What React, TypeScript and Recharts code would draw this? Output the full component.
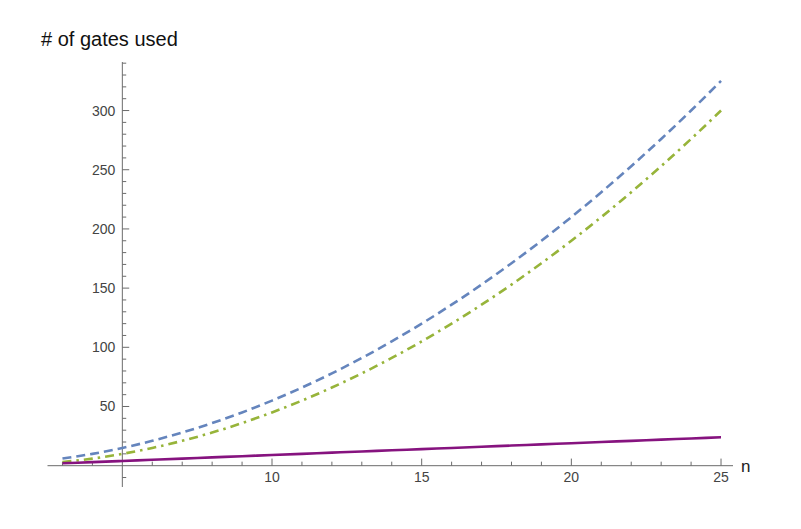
import { LineChart, Line, XAxis, YAxis, ReferenceLine } from 'recharts';

const nValues = [3, 4, 5, 6, 7, 8, 9, 10, 11, 12, 13, 14, 15, 16, 17, 18, 19, 20, 21, 22, 23, 24, 25];
const blueGates = [6, 10, 15, 21, 28, 36, 45, 55, 66, 78, 91, 105, 120, 136, 153, 171, 190, 210, 231, 253, 276, 300, 325];
const greenGates = [3, 6, 10, 15, 21, 28, 36, 45, 55, 66, 78, 91, 105, 120, 136, 153, 171, 190, 210, 231, 253, 276, 300];
const purpleGates = [2, 3, 4, 5, 6, 7, 8, 9, 10, 11, 12, 13, 14, 15, 16, 17, 18, 19, 20, 21, 22, 23, 24];

const xMajorTicks = [10, 15, 20, 25];
const xMinorTicks = [3, 4, 6, 7, 8, 9, 11, 12, 13, 14, 16, 17, 18, 19, 21, 22, 23, 24];
const yMajorTicks = [50, 100, 150, 200, 250, 300];
const yMinorTicks = [-10, 10, 20, 30, 40, 60, 70, 80, 90, 110, 120, 130, 140, 160, 170, 180, 190, 210, 220, 230, 240, 260, 270, 280, 290, 310, 320, 330, 340];

const data = nValues.map((n, i) => ({
  n,
  blue: blueGates[i],
  green: greenGates[i],
  purple: purpleGates[i],
}));

const AXIS = '#6b6b6b';
const LABEL = '#444';
const FONT = '"Liberation Sans", Arial, sans-serif';

export default function App() {
  return (
    <div style={{ position: 'absolute', left: 0, top: 0, width: 801, height: 529, background: '#fff', fontFamily: FONT }}>
      <div style={{ position: 'absolute', left: 41, top: 28, fontSize: 20, color: '#111', whiteSpace: 'nowrap' }}>
        # of gates used
      </div>
      <LineChart width={801} height={529} data={data} margin={{ top: 62, right: 68, bottom: 42, left: 47.5 }}>
        <XAxis dataKey="n" type="number" scale="linear" domain={[2.5, 25.4]} allowDataOverflow hide />
        <YAxis type="number" scale="linear" domain={[-18, 341]} allowDataOverflow hide />

        <ReferenceLine
          segment={[{ x: 2.5, y: 0 }, { x: 25.4, y: 0 }]}
          stroke={AXIS}
          strokeWidth={1}
          label={{ value: 'n', position: 'right', offset: 8, fill: '#222', fontSize: 17, fontFamily: FONT }}
        />
        <ReferenceLine segment={[{ x: 5, y: -18 }, { x: 5, y: 341 }]} stroke={AXIS} strokeWidth={1} />

        {xMajorTicks.map((v) => (
          <ReferenceLine
            key={`xM${v}`}
            segment={[{ x: v, y: 0 }, { x: v, y: 6 }]}
            stroke={AXIS}
            label={{ value: String(v), position: 'bottom', offset: 6, fill: LABEL, fontSize: 14, fontFamily: FONT }}
          />
        ))}
        {xMinorTicks.map((v) => (
          <ReferenceLine key={`xm${v}`} segment={[{ x: v, y: 0 }, { x: v, y: 3.4 }]} stroke={AXIS} />
        ))}
        {yMajorTicks.map((v) => (
          <ReferenceLine
            key={`yM${v}`}
            segment={[{ x: 5, y: v }, { x: 5.23, y: v }]}
            stroke={AXIS}
            label={{ value: String(v), position: 'left', offset: 7, fill: LABEL, fontSize: 14, fontFamily: FONT }}
          />
        ))}
        {yMinorTicks.map((v) => (
          <ReferenceLine key={`ym${v}`} segment={[{ x: 5, y: v }, { x: 5.13, y: v }]} stroke={AXIS} />
        ))}

        <Line
          dataKey="blue"
          type="natural"
          stroke="#6585bd"
          strokeWidth={2.6}
          strokeDasharray="9 5"
          dot={false}
          isAnimationActive={false}
        />
        <Line
          dataKey="green"
          type="natural"
          stroke="#97b43a"
          strokeWidth={2.6}
          strokeDasharray="9 5 2.5 5"
          dot={false}
          isAnimationActive={false}
        />
        <Line
          dataKey="purple"
          type="natural"
          stroke="#86137f"
          strokeWidth={2.6}
          dot={false}
          isAnimationActive={false}
        />
      </LineChart>
    </div>
  );
}
